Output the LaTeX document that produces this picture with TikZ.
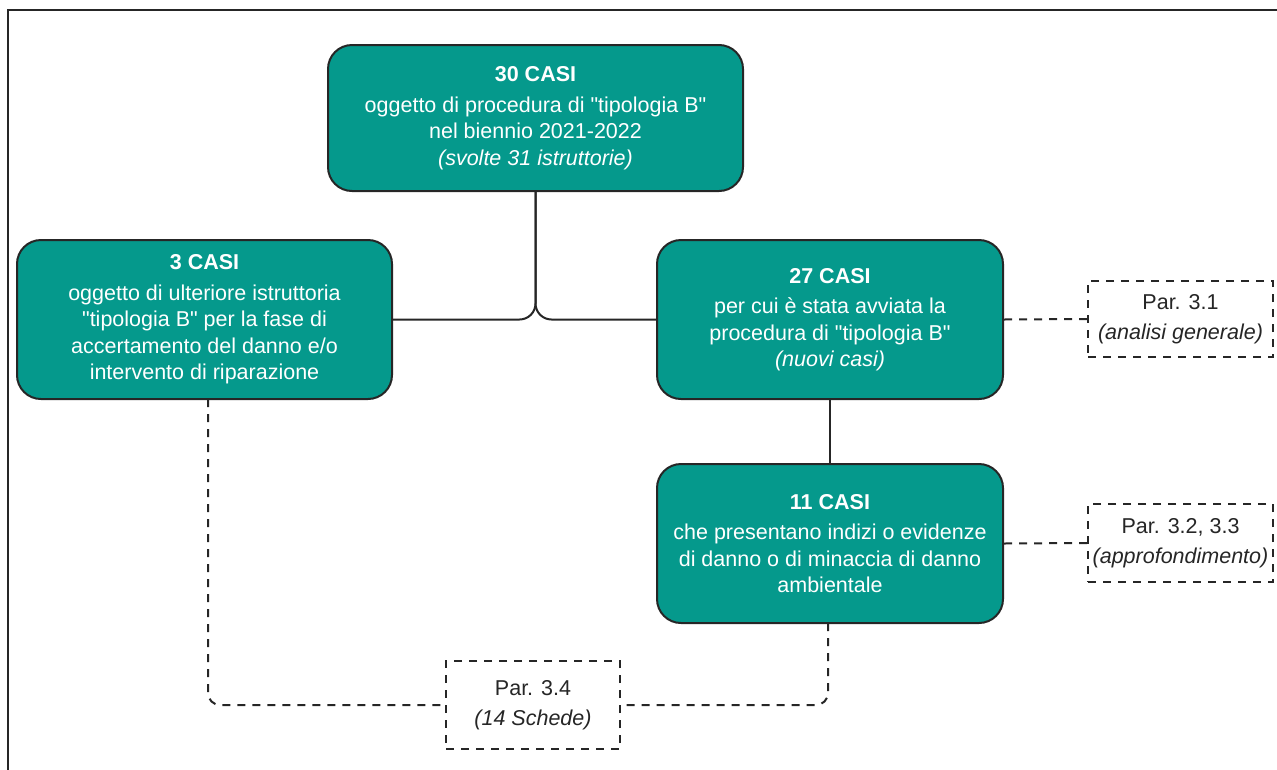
\documentclass[tikz,border=0pt]{standalone}
\usepackage{fontspec}
\setmainfont{Liberation Sans}[Ligatures=TeXOff]
\definecolor{teal1}{HTML}{05998C}
\definecolor{edge1}{HTML}{262626}
\begin{document}
\begin{tikzpicture}[x=1pt,y=-1pt,
  casebox/.style={draw=edge1, line width=2pt, fill=teal1, rounded corners=24pt,
    text=white, align=center, inner sep=0pt, font=\fontsize{21.5}{26.5}\selectfont},
  parbox/.style={draw=edge1, line width=2pt, dash pattern=on 8pt off 7pt, fill=white,
    text=edge1, align=center, inner sep=0pt, font=\fontsize{21.5}{30}\selectfont},
  link/.style={draw=edge1, line width=2pt},
  dlink/.style={draw=edge1, line width=2pt, dash pattern=on 8pt off 7pt}]
\useasboundingbox (0,0) rectangle (1277,769);
% outer frame
\draw[edge1, line width=2.2pt] (8,775) -- (8,10) -- (1285,10);

\node[casebox, minimum width=415pt, minimum height=146pt] (top) at (535.5,118)
  {\textbf{30 CASI}\\[4pt]oggetto di procedura di "tipologia B"\\nel biennio 2021-2022\\\textit{(svolte 31 istruttorie)}};
\node[casebox, minimum width=375pt, minimum height=159pt] (left) at (204.5,319.5)
  {\textbf{3 CASI}\\[4pt]oggetto di ulteriore istruttoria\\"tipologia B" per la fase di\\accertamento del danno e/o\\intervento di riparazione};
\node[casebox, minimum width=346pt, minimum height=159pt] (mid) at (830,319.5)
  {\textbf{27 CASI}\\[4pt]per cui è stata avviata la\\procedura di "tipologia B"\\\textit{(nuovi casi)}};
\node[casebox, minimum width=346pt, minimum height=159pt] (low) at (830,543.5)
  {\textbf{11 CASI}\\[4pt]che presentano indizi o evidenze\\di danno o di minaccia di danno\\ambientale};

\node[parbox, minimum width=185pt, minimum height=76pt] (p31) at (1180.5,319)
  {Par. 3.1\\\textit{(analisi generale)}};
\node[parbox, minimum width=185pt, minimum height=78pt] (p32) at (1180.5,543)
  {Par. 3.2, 3.3\\\textit{(approfondimento)}};
\node[parbox, minimum width=174pt, minimum height=88pt] (p34) at (533,705)
  {Par. 3.4\\\textit{(14 Schede)}};

% brace-like junction
\coordinate (j) at (top.south |- left.east);
\draw[link, rounded corners=16pt] (left.east) -- (j) -- (top.south);
\draw[link, rounded corners=16pt] (mid.west) -- (j) -- (top.south);
\draw[link] (mid.south) -- (low.north);
\draw[dlink] (mid.east) -- (p31.west);
\draw[dlink] (low.east) -- (p32.west);
\coordinate (lb) at (208,399);
\coordinate (rb) at (828,623);
\draw[dlink, rounded corners=12pt] (lb) |- (p34.west);
\draw[dlink, rounded corners=12pt] (rb) |- (p34.east);
\end{tikzpicture}
\end{document}
